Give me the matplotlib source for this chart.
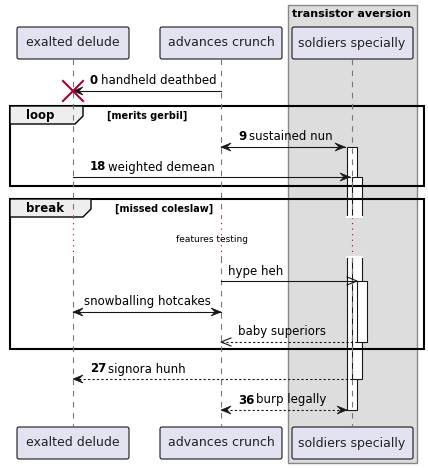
import matplotlib
matplotlib.use('Agg')
from matplotlib import pyplot as plt
from matplotlib.patches import Rectangle, Polygon, FancyBboxPatch

# participants and their x positions (pixels)
participants = ['exalted delude', 'advances crunch', 'soldiers specially']
part_x = [73, 221, 352]
box_lr = [(17, 129), (160, 282), (292, 413)]

# messages: (y, from, to, number, text, dashed, style)
messages = [
    (91, 221, 73, '0', 'handheld deathbed', False, 'filled'),
    (147, 221, 345, '9', 'sustained nun', False, 'both'),
    (177, 73, 350, '18', 'weighted demean', False, 'filled'),
    (281, 221, 357, '', 'hype heh', False, 'open'),
    (312, 73, 221, '', 'snowballing hotcakes', False, 'both'),
    (342, 357, 221, '', 'baby superiors', True, 'open'),
    (379, 352, 73, '27', 'signora hunh', True, 'filled'),
    (410, 221, 347, '36', 'burp legally', True, 'both'),
]

# activations: (x_left, y_top, y_bottom)
activations = [(347, 147, 410), (352, 177, 379), (357, 281, 342)]
gap = (217, 257)

fig = plt.figure(figsize=(4.28, 4.68), dpi=100)
ax = fig.add_axes([0, 0, 1, 1])
ax.set_xlim(0, 428)
ax.set_ylim(468, 0)
ax.axis('off')

# box group
ax.add_patch(Rectangle((288, 5), 129, 458, facecolor='#DDDDDD', edgecolor='#888888', lw=1))
ax.text(352, 14, 'transistor aversion', ha='center', va='center', fontsize=8, fontweight='bold')

# lifelines
for x in part_x:
    ax.plot([x, x], [59, gap[0]], color='#777777', lw=0.8, ls=(0, (5, 5)))
    ax.plot([x, x], [gap[1], 427], color='#777777', lw=0.8, ls=(0, (5, 5)))
    ax.plot([x, x], gap, color='#A80036', lw=0.8, ls=(0, (1, 4)))

# participant boxes
for name, (l, r), x in zip(participants, box_lr, part_x):
    for y0 in (27, 427):
        ax.add_patch(FancyBboxPatch((l, y0), r - l, 32, boxstyle='round,pad=0,rounding_size=2',
                                    facecolor='#E2E2F0', edgecolor='#181818', lw=0.8))
        ax.text(x, y0 + 16, name, ha='center', va='center', fontsize=9, color='#222222')

# activation bars
for xl, yt, yb in activations:
    if yt < gap[0] and yb > gap[1]:
        ax.add_patch(Rectangle((xl, yt), 10, gap[0] - yt, facecolor='white', edgecolor='#181818', lw=0.8))
        ax.add_patch(Rectangle((xl, gap[1]), 10, yb - gap[1], facecolor='white', edgecolor='#181818', lw=0.8))
        ax.plot([xl, xl + 10], [gap[0], gap[0]], color='white', lw=1.5)
        ax.plot([xl, xl + 10], [gap[1], gap[1]], color='white', lw=1.5)
    else:
        ax.add_patch(Rectangle((xl, yt), 10, yb - yt, facecolor='white', edgecolor='#181818', lw=0.8))


def head(x, y, d, style):
    if style == 'open':
        ax.plot([x - d * 10, x, x - d * 10], [y - 4, y, y + 4], color='#181818', lw=0.8)
    else:
        ax.add_patch(Polygon([(x, y), (x - d * 10, y - 4), (x - d * 6, y), (x - d * 10, y + 4)],
                             closed=True, facecolor='#181818', edgecolor='#181818', lw=0.5))


# frames
for y0, y1, tab_w, label, guard in [(106, 186, 73, 'loop', '[merits gerbil]'),
                                    (199, 349, 81, 'break', '[missed coleslaw]')]:
    ax.add_patch(Rectangle((10, y0), 414, y1 - y0, facecolor='none', edgecolor='#000000', lw=1.5))
    ax.add_patch(Polygon([(10, y0), (10 + tab_w, y0), (10 + tab_w, y0 + 10), (10 + tab_w - 8, y0 + 18),
                          (10, y0 + 18)], closed=True, facecolor='#EEEEEE', edgecolor='#000000', lw=1))
    ax.text(26, y0 + 10, label, ha='left', va='center', fontsize=8.5, fontweight='bold')
    ax.text(10 + tab_w + 24, y0 + 10, guard, ha='left', va='center', fontsize=7, fontweight='bold')

ax.text(212, 239, 'features testing', ha='center', va='center', fontsize=6.5)

# messages
for y, x0, x1, num, text, dashed, style in messages:
    d = 1 if x1 > x0 else -1
    ax.plot([x0, x1], [y, y], color='#181818', lw=0.8, ls=(0, (2, 2)) if dashed else '-')
    head(x1, y, d, style)
    if style == 'both':
        head(x0, y, -d, 'filled')
    lx = min(x0, x1) + 17
    if text == 'snowballing hotcakes':
        ax.text((x0 + x1) / 2, y - 10, text, ha='center', va='center', fontsize=8.5)
        continue
    if text == 'hype heh':
        lx = 228
    if num:
        t = ax.text(lx, y - 10, num, ha='left', va='center', fontsize=8.5, fontweight='bold')
        ax.text(lx + 7 * len(num) + 4, y - 10, text, ha='left', va='center', fontsize=8.5)
    else:
        ax.text(lx, y - 10, text, ha='left', va='center', fontsize=8.5)

# destroy cross
ax.plot([63, 83], [81, 101], color='#A80036', lw=1.5)
ax.plot([63, 83], [101, 81], color='#A80036', lw=1.5)

fig.savefig('out.png', dpi=100)
